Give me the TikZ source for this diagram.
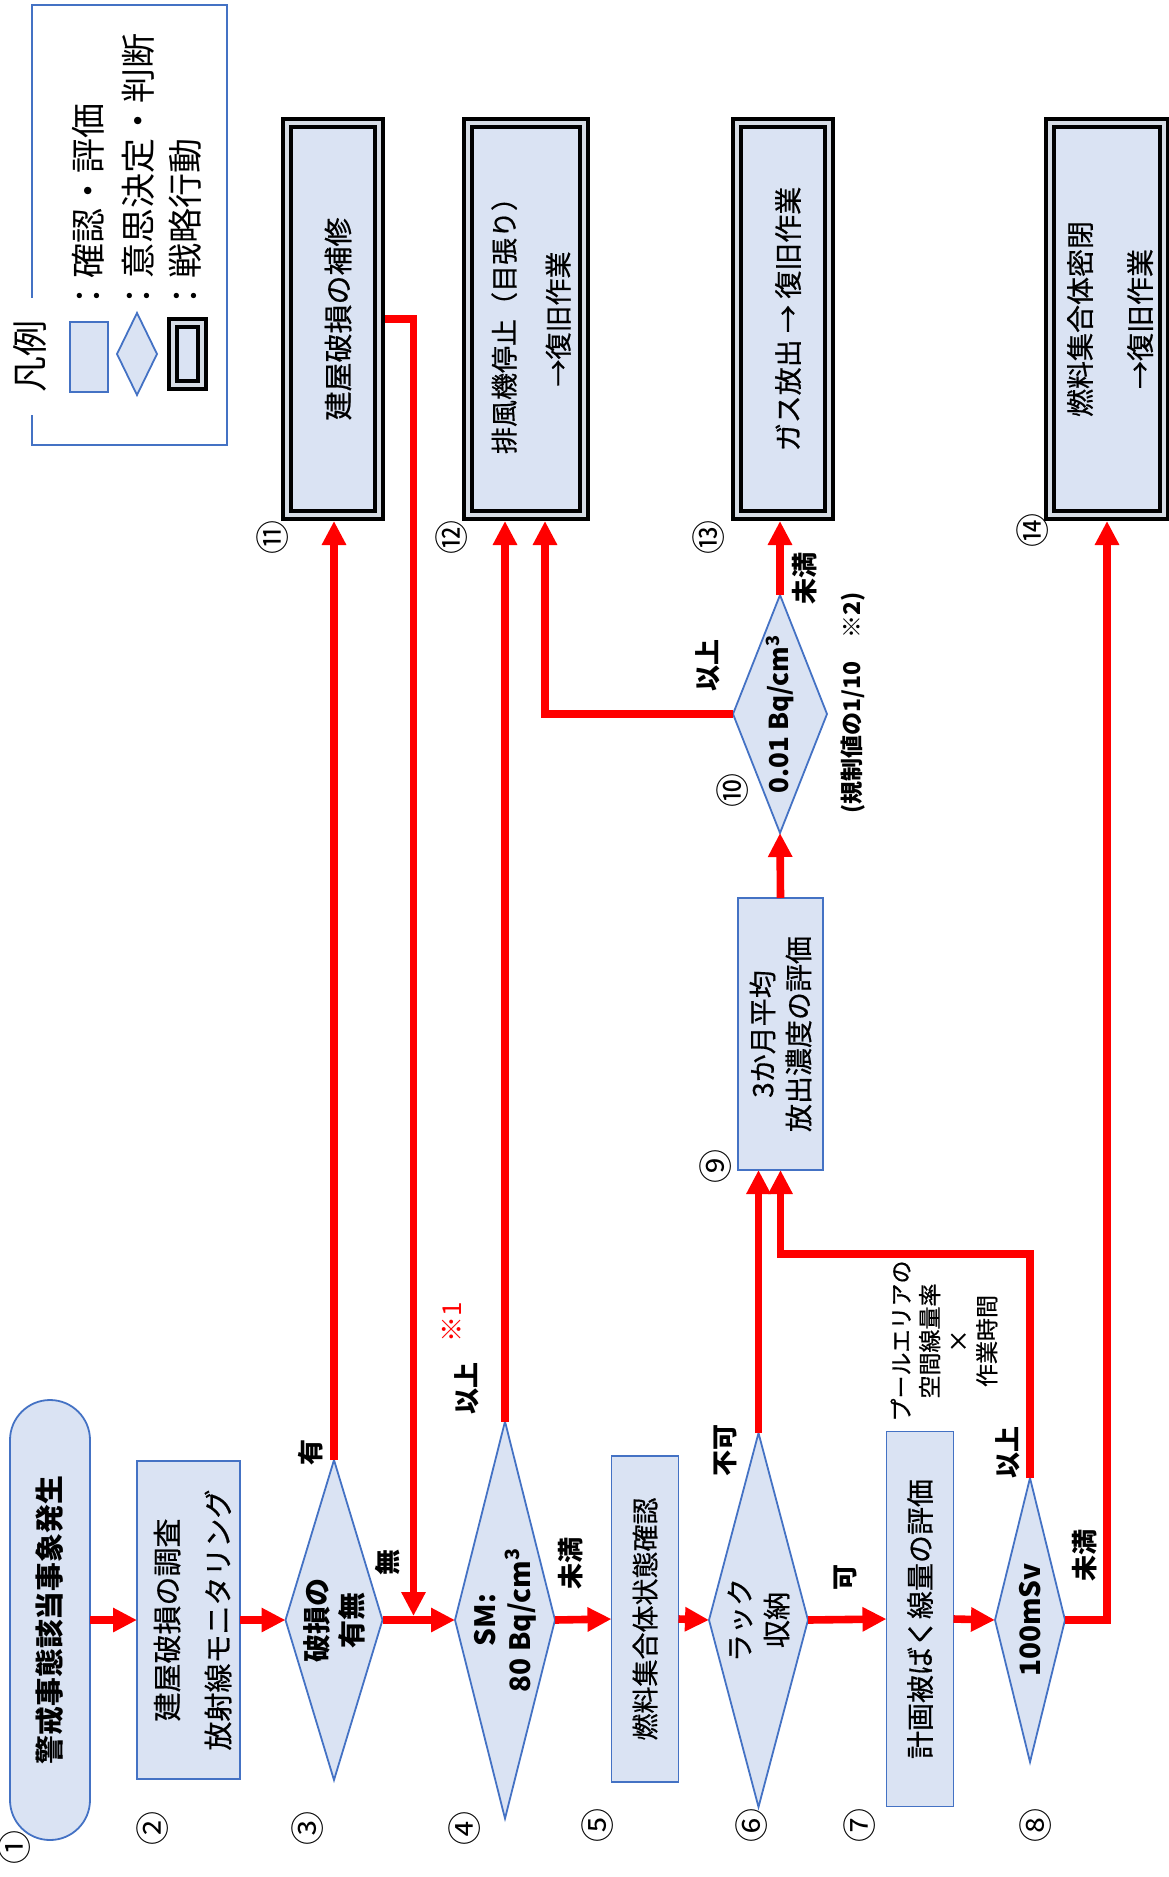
\documentclass[tikz,border=0pt]{standalone}
\usepackage{fontspec}
\setmainfont{Noto Sans CJK JP}
\newfontfamily\medfont{Noto Sans CJK JP}[FakeBold=0.6]
\usetikzlibrary{shapes.geometric,arrows.meta,calc}
\definecolor{boxfill}{RGB}{218,227,243}
\definecolor{boxline}{RGB}{68,114,196}
\definecolor{gapc}{RGB}{214,220,229}
\definecolor{flowred}{RGB}{255,0,0}
\tikzset{
  bx/.style={rectangle, draw=boxline, fill=boxfill, line width=0.9pt, inner sep=0pt, outer sep=0pt},
  dm/.style={diamond, draw=boxline, fill=boxfill, line width=0.9pt, inner sep=0pt, outer sep=0pt},
  dbx/.style={rectangle, draw=black, line width=2pt, double=gapc, double distance=2pt, fill=boxfill, inner sep=0pt, outer sep=3pt},
  vt/.style={rotate=90, align=center, inner sep=0pt},
  flow/.style={draw=flowred, line width=3.8pt, -{Triangle[length=12pt,width=11.5pt]}},
  num/.style={rotate=90, inner sep=0pt, font=\fontsize{17pt}{17pt}\selectfont},
  lab/.style={rotate=90, inner sep=0pt, font=\bfseries\fontsize{13pt}{13pt}\selectfont},
}
\begin{document}
\begin{tikzpicture}[x=0.5pt,y=-0.5pt]
\useasboundingbox (0,0) rectangle (1168,1877);
% legend
\draw[boxline, line width=1.2pt] (32,298) -- (32,5) -- (227,5) -- (227,445) -- (32,445) -- (32,415);
\node[vt, font=\fontsize{18pt}{18pt}\selectfont] (lgt) at (30,357) {凡例};
\node[bx, minimum width=19pt, minimum height=35pt] (lg1) at (89,357) {};
\node[dm, minimum width=20pt, minimum height=41pt] (lg2) at (137,354) {};
\node[dbx, minimum width=14.5pt, minimum height=31pt] (lg3) at (187.5,354) {};
\node[vt, anchor=west, font=\fontsize{17.5pt}{17.5pt}\selectfont] (lt1) at (88,314) {：確認・評価};
\node[vt, anchor=west, font=\fontsize{17.5pt}{17.5pt}\selectfont] (lt2) at (138,314) {：意思決定・判断};
\node[vt, anchor=west, font=\fontsize{17.5pt}{17.5pt}\selectfont] (lt3) at (185,314) {：戦略行動};

% main row
\node[bx, rounded corners=20pt, minimum width=40pt, minimum height=220pt] (n1) at (50,1620) {};
\node[vt, font=\bfseries\fontsize{14.4pt}{14.4pt}\selectfont] (t1) at (n1) {警戒事態該当事象発生};
\node[bx, minimum width=51.5pt, minimum height=159pt] (n2) at (188.5,1620) {};
\node[vt, font=\medfont\fontsize{14.5pt}{25.5pt}\selectfont] (t2) at ($(n2)+(4,0)$) {建屋破損の調査\\放射線モニタリング};
\node[dm, minimum width=48.5pt, minimum height=160pt] (n3) at (334,1620) {};
\node[vt, font=\bfseries\fontsize{14pt}{17.5pt}\selectfont] (t3) at (n3) {破損の\\有無};
\node[dm, minimum width=50pt, minimum height=198.5pt] (n4) at (505,1620) {};
\node[vt, font=\bfseries\fontsize{14pt}{17.5pt}\selectfont] (t4) at (n4) {SM:\\80 Bq/cm\textsuperscript{3}};
\node[bx, minimum width=33.5pt, minimum height=163pt] (n5) at (645,1619) {};
\node[vt, font=\medfont\fontsize{13.5pt}{13.5pt}\selectfont] (t5) at (n5) {燃料集合体状態確認};
\node[dm, minimum width=49.5pt, minimum height=187pt] (n6) at (758.5,1620) {};
\node[vt, font=\medfont\fontsize{14pt}{18.5pt}\selectfont] (t6) at (n6) {ラック\\収納};
\node[bx, minimum width=33.5pt, minimum height=187.5pt] (n7) at (920,1619) {};
\node[vt, font=\medfont\fontsize{14pt}{14pt}\selectfont] (t7) at (n7) {計画被ばく線量の評価};
\node[dm, minimum width=35pt, minimum height=142pt] (n8) at (1030,1620) {};
\node[vt, font=\bfseries\fontsize{14pt}{14pt}\selectfont] (t8) at (n8) {100mSv};

% upper part
\node[bx, minimum width=42.5pt, minimum height=136pt] (n9) at (780.5,1034) {};
\node[vt, font=\medfont\fontsize{14pt}{18pt}\selectfont] (t9) at (n9) {3か月平均\\放出濃度の評価};
\node[dm, minimum width=47pt, minimum height=119pt] (n10) at (780,714) {};
\node[vt, font=\bfseries\fontsize{13pt}{13pt}\selectfont] (t10) at (n10) {0.01 Bq/cm\textsuperscript{3}};

\node[dbx, minimum width=46pt, minimum height=196pt] (n11) at (333,319) {};
\node[vt, font=\medfont\fontsize{14.5pt}{14.5pt}\selectfont] (t11) at ($(n11)+(5,0)$) {建屋破損の補修};
\node[dbx, minimum width=58pt, minimum height=196pt] (n12) at (526,319) {};
\node[vt, font=\medfont\fontsize{13.5pt}{27pt}\selectfont] (t12) at ($(n12)+(5,0)$) {排風機停止（目張り）\\→復旧作業};
\node[dbx, minimum width=46pt, minimum height=196pt] (n13) at (783,319) {};
\node[vt, font=\medfont\fontsize{14pt}{14pt}\selectfont] (t13) at ($(n13)+(5,0)$) {ガス放出 → 復旧作業};
\node[dbx, minimum width=57pt, minimum height=196pt] (n14) at (1107,319) {};
\node[vt, font=\medfont\fontsize{14pt}{30pt}\selectfont] (t14) at ($(n14)+(3,0)$) {燃料集合体密閉\\→復旧作業};

% numbers
\node[num] (c1) at (15,1847) {①};
\node[num] (c2) at (153,1828) {②};
\node[num] (c3) at (308,1828) {③};
\node[num] (c4) at (465,1828) {④};
\node[num] (c5) at (598,1825) {⑤};
\node[num] (c6) at (752,1825) {⑥};
\node[num] (c7) at (860,1825) {⑦};
\node[num] (c8) at (1036,1825) {⑧};
\node[num] (c9) at (716,1166) {⑨};
\node[num] (c10) at (733,790) {⑩};
\node[num] (c11) at (273,537) {⑪};
\node[num] (c12) at (452,537) {⑫};
\node[num] (c13) at (709,537) {⑬};
\node[num] (c14) at (1033,530) {⑭};

% labels
\node[lab] (l3a) at (311,1452) {有};
\node[lab] (l3b) at (388,1562) {無};
\node[lab] (l4a) at (467,1388) {以上};
\node[vt, text=flowred, font=\fontsize{13pt}{13pt}\selectfont] (r1) at (452,1322) {※1};
\node[lab] (l4b) at (571,1563) {未満};
\node[lab] (l6a) at (725,1450) {不可};
\node[lab] (l6b) at (845,1577) {可};
\node[lab] (l8a) at (1008,1452) {以上};
\node[lab] (l8b) at (1085,1555) {未満};
\node[lab] (l10a) at (708,665) {以上};
\node[lab] (l10b) at (805,578) {未満};
\node[vt, font=\bfseries\fontsize{11.5pt}{11.5pt}\selectfont] (reg) at (853,703) {(規制値の1/10　※2)};
\node[vt, font=\medfont\fontsize{11.5pt}{14.3pt}\selectfont] (pool) at (944,1341) {プールエリアの\\空間線量率\\×\\作業時間};

% connectors
\coordinate (jn) at ($(n3.east)+(31,-4)$);
\draw[flow] (n1.east) -- (n2.west);
\draw[flow] (n2.east) -- (n3.west);
\draw[flow] (n3.east) -- (n4.west);
\draw[flow] (n4.east) -- (n5.west);
\draw[flow] (n5.east) -- (n6.west);
\draw[flow] (n6.east) -- (n7.west);
\draw[flow] (n7.east) -- (n8.west);
\draw[flow] (n3.north) -- (n3.north |- n11.south);
\draw[flow] (n11.east) -| (jn);
\draw[flow] (n4.north) -- (n4.north |- n12.south);
\draw[flow] (n10.west) -| ($(n12.south)+(19,0)$);
\draw[flow] (n10.north) -- (n10.north |- n13.south);
\draw[flow] (n9.north) -- (n10.south);
\draw[flow] (n6.north) -- (n6.north |- n9.south);
\draw[flow] (n8.north) -- ++(0,-224) -| (n9.south);
\draw[flow] (n8.east) -| (n14.south);
\end{tikzpicture}
\end{document}
